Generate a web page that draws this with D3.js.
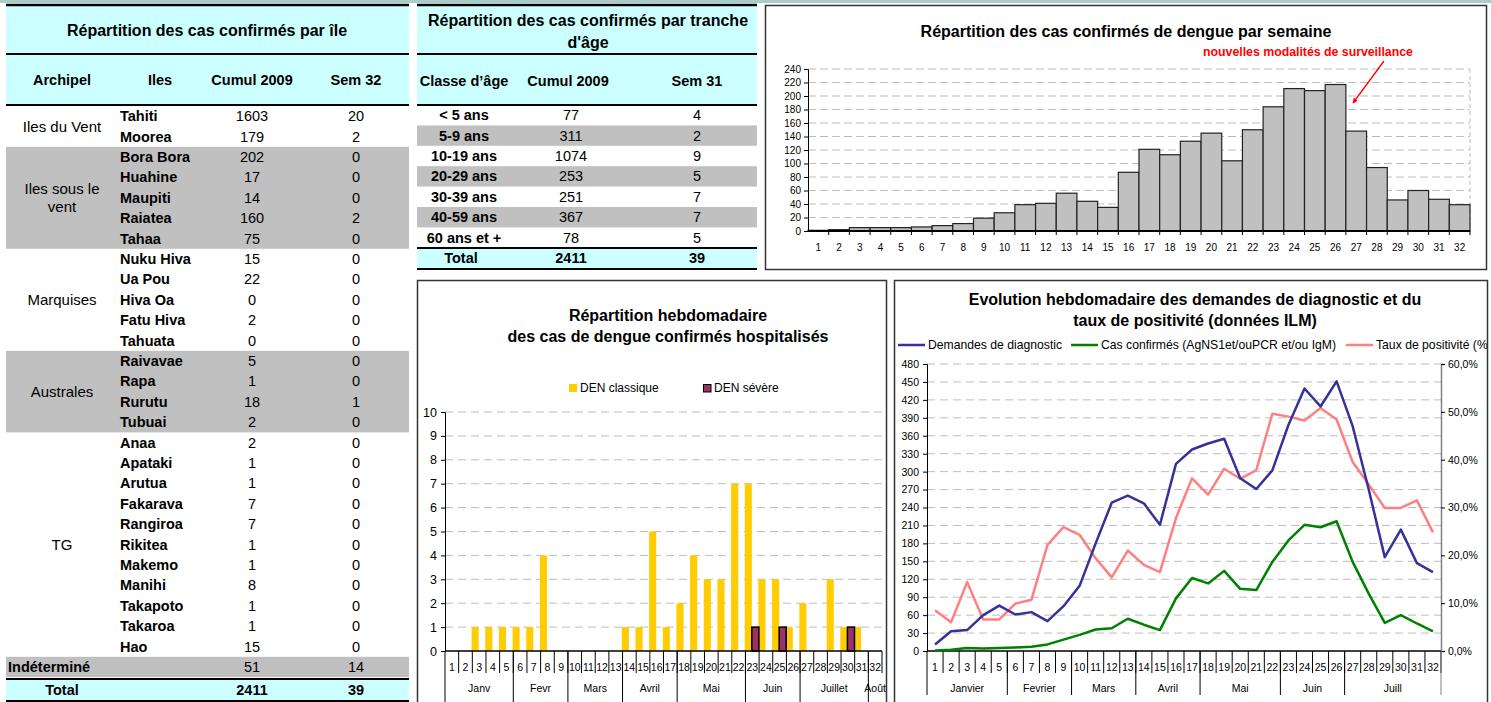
<!DOCTYPE html>
<html>
<head>
<meta charset="utf-8">
<script src="https://cdn.jsdelivr.net/npm/d3@7"></script>
<style>
body { margin: 0; background: #fff; }
svg { display: block; font-family: "Liberation Sans", Arial, sans-serif; }
</style>
</head>
<body>
<svg id="chart" width="1491" height="702"></svg>
<script>
// ---- data ----
var archipelNames = ['Iles du Vent', 'Iles sous le\nvent', 'Marquises', 'Australes', 'TG'];
var archipelSizes = [2, 5, 5, 4, 11];
var iles = ['Tahiti', 'Moorea', 'Bora Bora', 'Huahine', 'Maupiti', 'Raiatea', 'Tahaa',
    'Nuku Hiva', 'Ua Pou', 'Hiva Oa', 'Fatu Hiva', 'Tahuata',
    'Raivavae', 'Rapa', 'Rurutu', 'Tubuai',
    'Anaa', 'Apataki', 'Arutua', 'Fakarava', 'Rangiroa', 'Rikitea', 'Makemo', 'Manihi', 'Takapoto', 'Takaroa', 'Hao'];
var ilesCumul = [1603, 179, 202, 17, 14, 160, 75, 15, 22, 0, 2, 0, 5, 1, 18, 2, 2, 1, 1, 7, 7, 1, 1, 8, 1, 1, 15];
var ilesSem = [20, 2, 0, 0, 0, 2, 0, 0, 0, 0, 0, 0, 0, 0, 1, 0, 0, 0, 0, 0, 0, 0, 0, 0, 0, 0, 0];
var indetCumul = 51, indetSem = 14;
var totalCumul = 2411, totalSem = 39;

var ageClasses = ['< 5 ans', '5-9 ans', '10-19 ans', '20-29 ans', '30-39 ans', '40-59 ans', '60 ans et +'];
var ageCumul = [77, 311, 1074, 253, 251, 367, 78];
var ageSem = [4, 2, 9, 5, 7, 7, 5];

var weeks = [1, 2, 3, 4, 5, 6, 7, 8, 9, 10, 11, 12, 13, 14, 15, 16,
    17, 18, 19, 20, 21, 22, 23, 24, 25, 26, 27, 28, 29, 30, 31, 32];
var casesPerWeek = [1, 2, 5, 5, 5, 6, 8, 11, 19, 27, 39, 41, 56, 44, 35, 87,
    121, 113, 133, 145, 104, 150, 184, 211, 208, 217, 148, 94, 46, 60, 47, 39];

var hospClassique = [0, 0, 1, 1, 1, 1, 1, 4, 0, 0, 0, 0, 0, 1, 1, 5,
    1, 2, 4, 3, 3, 7, 7, 3, 3, 1, 2, 0, 3, 1, 1, 0];
var hospSevere = [0, 0, 0, 0, 0, 0, 0, 0, 0, 0, 0, 0, 0, 0, 0, 0,
    0, 0, 0, 0, 0, 0, 1, 0, 1, 0, 0, 0, 0, 1, 0, 0];
var monthsHosp = ['Janv', 'Fevr', 'Mars', 'Avril', 'Mai', 'Juin', 'Juillet', 'Août'];
var monthsHospWeeks = [5, 4, 4, 4, 5, 4, 5, 1];

var demandes = [11, 33, 35, 60, 76, 61, 65, 50, 75, 109, 180, 248, 260, 247, 211, 313,
    337, 347, 355, 289, 271, 302, 378, 439, 409, 451, 376, 270, 157, 203, 147, 132];
var confirmes = [1, 2, 5, 4, 5, 6, 7, 11, 19, 27, 36, 38, 54, 44, 35, 88,
    122, 113, 134, 104, 102, 149, 185, 211, 207, 217, 149, 96, 47, 60, 46, 33];
var tauxPositivite = [8.5, 6.0, 14.4, 6.6, 6.6, 9.9, 10.7, 22.2, 25.9, 24.3, 19.4, 15.4, 21.0, 18.0, 16.5, 27.8,
    36.1, 32.7, 38.1, 36.0, 37.8, 49.6, 49.0, 48.2, 50.8, 48.4, 39.5, 34.8, 29.9, 29.9, 31.5, 24.8];
var monthsIlm = ['Janvier', 'Fevrier', 'Mars', 'Avril', 'Mai', 'Juin', 'Juill'];
var monthsIlmWeeks = [5, 4, 4, 4, 5, 4, 6];

// ---- common ----
var svg = d3.select('#chart');
var cyan = '#ccffff', grey = '#c0c0c0';
var cellFont = 14.5, titleFont = 16;

svg.append('rect').attr('x', 0).attr('y', 0).attr('width', 1491).attr('height', 3).attr('fill', '#a9cdcd');

function hline(g, x0, x1, y, w) {
    g.append('line').attr('x1', x0).attr('x2', x1).attr('y1', y).attr('y2', y)
        .attr('stroke', '#000').attr('stroke-width', w);
}

function txt(g, x, y, s, size, opts) {
    opts = opts || {};
    return g.append('text')
        .attr('x', x).attr('y', y).attr('dy', '0.35em')
        .attr('text-anchor', opts.anchor || 'middle')
        .attr('font-size', size)
        .attr('font-weight', opts.bold ? 'bold' : 'normal')
        .attr('fill', opts.fill || '#000')
        .text(s);
}

// ---- table 1 : cases per island ----
var t1 = svg.append('g');
var T1 = { x0: 6, x1: 409 };
var nRows1 = iles.length + 1;
var row1 = d3.scaleBand().domain(d3.range(nRows1)).range([106, 106 + nRows1 * 20.4]);

t1.append('rect').attr('x', T1.x0).attr('y', 5).attr('width', T1.x1 - T1.x0).attr('height', 100).attr('fill', cyan);
t1.append('rect').attr('x', T1.x0).attr('y', 679).attr('width', T1.x1 - T1.x0).attr('height', 22).attr('fill', cyan);

var groupStart = [];
archipelSizes.reduce(function (acc, n) { groupStart.push(acc); return acc + n; }, 0);

archipelNames.forEach(function (name, i) {
    var y0 = row1(groupStart[i]);
    var y1 = row1(groupStart[i] + archipelSizes[i] - 1) + row1.bandwidth();
    if (i % 2 === 1) {
        t1.append('rect').attr('x', T1.x0).attr('y', y0).attr('width', T1.x1 - T1.x0)
            .attr('height', y1 - y0).attr('fill', grey);
    }
    var lines = name.split('\n');
    lines.forEach(function (l, j) {
        txt(t1, 62, (y0 + y1) / 2 + (j - (lines.length - 1) / 2) * 18, l, 15);
    });
});
t1.append('rect').attr('x', T1.x0).attr('y', row1(iles.length)).attr('width', T1.x1 - T1.x0)
    .attr('height', row1.bandwidth()).attr('fill', grey);

txt(t1, 207, 30, 'Répartition des cas confirmés par île', titleFont, { bold: true });
[['Archipel', 62], ['Iles', 160], ['Cumul 2009', 252], ['Sem 32', 356]].forEach(function (h) {
    txt(t1, h[1], 80, h[0], cellFont, { bold: true });
});

iles.forEach(function (d, i) {
    var cy = row1(i) + row1.bandwidth() / 2;
    txt(t1, 120, cy, d, cellFont, { bold: true, anchor: 'start' });
    txt(t1, 252, cy, ilesCumul[i], cellFont);
    txt(t1, 356, cy, ilesSem[i], cellFont);
});
var cyI = row1(iles.length) + row1.bandwidth() / 2;
txt(t1, 8, cyI, 'Indéterminé', cellFont, { bold: true, anchor: 'start' });
txt(t1, 252, cyI, indetCumul, cellFont);
txt(t1, 356, cyI, indetSem, cellFont);
txt(t1, 62, 690, 'Total', cellFont, { bold: true });
txt(t1, 252, 690, totalCumul, cellFont, { bold: true });
txt(t1, 356, 690, totalSem, cellFont, { bold: true });

[[5, 2.5], [54, 2], [105, 2], [679, 2], [701, 2]].forEach(function (l) {
    hline(t1, T1.x0, T1.x1, l[0], l[1]);
});

// ---- table 2 : cases per age class ----
var t2 = svg.append('g');
var T2 = { x0: 417, x1: 757 };
var row2 = d3.scaleBand().domain(d3.range(ageClasses.length)).range([105, 105 + ageClasses.length * 20.4]);

t2.append('rect').attr('x', T2.x0).attr('y', 5).attr('width', T2.x1 - T2.x0).attr('height', 100).attr('fill', cyan);
t2.append('rect').attr('x', T2.x0).attr('y', 248).attr('width', T2.x1 - T2.x0).attr('height', 21).attr('fill', cyan);
ageClasses.forEach(function (d, i) {
    if (i % 2 === 1) {
        t2.append('rect').attr('x', T2.x0).attr('y', row2(i)).attr('width', T2.x1 - T2.x0)
            .attr('height', row2.bandwidth()).attr('fill', grey);
    }
    var cy = row2(i) + row2.bandwidth() / 2;
    txt(t2, 464, cy, d, cellFont, { bold: true });
    txt(t2, 571, cy, ageCumul[i], cellFont);
    txt(t2, 697, cy, ageSem[i], cellFont);
});
txt(t2, 588, 20, 'Répartition des cas confirmés par tranche', titleFont, { bold: true });
txt(t2, 588, 42, "d'âge", titleFont, { bold: true });
[['Classe d’âge', 464], ['Cumul 2009', 568], ['Sem 31', 697]].forEach(function (h) {
    txt(t2, h[1], 81, h[0], cellFont, { bold: true });
});
txt(t2, 461, 258, 'Total', cellFont, { bold: true });
txt(t2, 571, 258, totalCumul, cellFont, { bold: true });
txt(t2, 697, 258, totalSem, cellFont, { bold: true });
[[5, 2.5], [54, 2], [105, 2], [248, 2], [269, 2]].forEach(function (l) {
    hline(t2, T2.x0, T2.x1, l[0], l[1]);
});

// ---- chart 1 : confirmed cases per week ----
var c1 = svg.append('g');
c1.append('rect').attr('x', 765.5).attr('y', 5.5).attr('width', 721).attr('height', 264)
    .attr('fill', '#fff').attr('stroke', '#333').attr('stroke-width', 1.5);
var P1 = { l: 808, r: 1470, t: 69, b: 231 };
var x1 = d3.scaleBand().domain(weeks).range([P1.l, P1.r]);
var y1 = d3.scaleLinear().domain([0, 240]).range([P1.b, P1.t]);

c1.selectAll('.grid').data(y1.ticks(12).filter(function (d) { return d > 0; }))
    .enter().append('line')
    .attr('x1', P1.l).attr('x2', P1.r)
    .attr('y1', function (d) { return y1(d); }).attr('y2', function (d) { return y1(d); })
    .attr('stroke', '#bdbdbd').attr('stroke-dasharray', '8,4');
c1.append('line').attr('x1', P1.r).attr('x2', P1.r).attr('y1', P1.t).attr('y2', P1.b)
    .attr('stroke', '#bdbdbd').attr('stroke-dasharray', '4,3');

c1.selectAll('.bar').data(casesPerWeek).enter().append('rect')
    .attr('x', function (d, i) { return x1(weeks[i]); })
    .attr('y', function (d) { return y1(d); })
    .attr('width', x1.bandwidth())
    .attr('height', function (d) { return P1.b - y1(d); })
    .attr('fill', '#c0c0c0').attr('stroke', '#222').attr('stroke-width', 1.2);

var ax1 = c1.append('g').attr('transform', 'translate(' + P1.l + ',0)')
    .call(d3.axisLeft(y1).ticks(12).tickSize(4).tickPadding(3));
ax1.selectAll('text').attr('font-size', 10).attr('font-family', null);
ax1.selectAll('line').attr('stroke', '#000');
ax1.select('.domain').attr('stroke', '#000');

hline(c1, P1.l, P1.r, P1.b, 2);
c1.selectAll('.wt').data(weeks).enter().append('line')
    .attr('x1', function (d) { return x1(d) + x1.bandwidth(); })
    .attr('x2', function (d) { return x1(d) + x1.bandwidth(); })
    .attr('y1', P1.b).attr('y2', P1.b + 4).attr('stroke', '#000');
c1.selectAll('.wl').data(weeks).enter().append('text')
    .attr('x', function (d) { return x1(d) + x1.bandwidth() / 2; })
    .attr('y', 247).attr('dy', '0.35em').attr('text-anchor', 'middle')
    .attr('font-size', 10).text(function (d) { return d; });

txt(c1, 1126, 31, 'Répartition des cas confirmés de dengue par semaine', titleFont, { bold: true });
txt(c1, 1308, 52, 'nouvelles modalités de surveillance', 12.3, { bold: true, fill: '#ff0000' });

svg.append('defs').append('marker')
    .attr('id', 'arrow').attr('viewBox', '0 0 10 10').attr('refX', 9).attr('refY', 5)
    .attr('markerWidth', 4).attr('markerHeight', 4).attr('orient', 'auto')
    .append('path').attr('d', 'M0,0 L10,5 L0,10 z').attr('fill', '#ff0000');
c1.append('line').attr('x1', 1384).attr('y1', 61).attr('x2', 1353).attr('y2', 103)
    .attr('stroke', '#ff0000').attr('stroke-width', 1.3).attr('marker-end', 'url(#arrow)');

// week / month axis under the two bottom charts
function weekMonthAxis(g, x, yAxis, months, monthWeeks, weekTickEnd, monthTickEnd) {
    var bw = x.bandwidth();
    g.selectAll(null).data(weeks).enter().append('line')
        .attr('x1', function (d) { return x(d) + bw; }).attr('x2', function (d) { return x(d) + bw; })
        .attr('y1', yAxis).attr('y2', weekTickEnd).attr('stroke', '#000');
    g.selectAll(null).data(weeks).enter().append('text')
        .attr('x', function (d) { return x(d) + bw / 2; }).attr('y', 667).attr('dy', '0.35em')
        .attr('text-anchor', 'middle').attr('font-size', 10.5).text(function (d) { return d; });
    var acc = 0;
    months.forEach(function (m, i) {
        var first = weeks[acc], last = weeks[acc + monthWeeks[i] - 1];
        var xa = x(first), xb = x(last) + bw;
        g.append('line').attr('x1', xa).attr('x2', xa).attr('y1', yAxis).attr('y2', monthTickEnd)
            .attr('stroke', '#000');
        txt(g, (xa + xb) / 2, 688, m, 10.5);
        acc += monthWeeks[i];
    });
}

// ---- chart 2 : hospitalised cases ----
var c2 = svg.append('g');
c2.append('clipPath').attr('id', 'clip2').append('rect')
    .attr('x', 417).attr('y', 280).attr('width', 470).attr('height', 430);
var c2in = c2.append('g').attr('clip-path', 'url(#clip2)');
var P2 = { l: 445, r: 882, t: 412, b: 651 };
var x2 = d3.scaleBand().domain(weeks).range([P2.l, P2.r]);
var sub2 = d3.scaleBand().domain(['classique', 'severe']).range([-0.7, x2.bandwidth() - 0.2]);
var y2 = d3.scaleLinear().domain([0, 10]).range([P2.b, P2.t]);

c2in.selectAll('.grid').data(y2.ticks(10).filter(function (d) { return d > 0; }))
    .enter().append('line')
    .attr('x1', P2.l).attr('x2', P2.r)
    .attr('y1', function (d) { return y2(d); }).attr('y2', function (d) { return y2(d); })
    .attr('stroke', '#bdbdbd').attr('stroke-dasharray', '8,5');

c2in.selectAll('.barC').data(hospClassique).enter().append('rect')
    .attr('class', 'barC')
    .attr('x', function (d, i) { return x2(weeks[i]) + sub2('classique'); })
    .attr('y', function (d) { return y2(d); })
    .attr('width', sub2.bandwidth())
    .attr('height', function (d) { return P2.b - y2(d); })
    .attr('fill', '#ffcc00');
c2in.selectAll('.barS').data(hospSevere).enter().append('rect')
    .attr('class', 'barS')
    .attr('x', function (d, i) { return x2(weeks[i]) + sub2('severe'); })
    .attr('y', function (d) { return y2(d); })
    .attr('width', sub2.bandwidth())
    .attr('height', function (d) { return P2.b - y2(d); })
    .attr('fill', '#993366').attr('stroke', '#000')
    .attr('stroke-width', function (d) { return d > 0 ? 1.5 : 0; });

var ax2 = c2in.append('g').attr('transform', 'translate(' + P2.l + ',0)')
    .call(d3.axisLeft(y2).ticks(10).tickSize(4).tickPadding(4));
ax2.selectAll('text').attr('font-size', 12.5).attr('font-family', null);
ax2.selectAll('line').attr('stroke', '#000');
ax2.select('.domain').attr('stroke', '#000');
hline(c2in, P2.l, P2.r, P2.b, 1.5);
weekMonthAxis(c2in, x2, P2.b, monthsHosp, monthsHospWeeks, 673, 702);

txt(c2in, 668, 315, 'Répartition hebdomadaire', titleFont, { bold: true });
txt(c2in, 668, 336, 'des cas de dengue confirmés hospitalisés', titleFont, { bold: true });
c2in.append('rect').attr('x', 569).attr('y', 384).attr('width', 8).attr('height', 8).attr('fill', '#ffcc00');
txt(c2in, 580, 388, 'DEN classique', 12, { anchor: 'start' });
c2in.append('rect').attr('x', 703.5).attr('y', 384.5).attr('width', 7.5).attr('height', 7.5)
    .attr('fill', '#993366').attr('stroke', '#000').attr('stroke-width', 1);
txt(c2in, 714, 388, 'DEN sévère', 12, { anchor: 'start' });
c2.append('rect').attr('x', 417.5).attr('y', 280.5).attr('width', 469).attr('height', 430)
    .attr('fill', 'none').attr('stroke', '#333').attr('stroke-width', 1.5);

// ---- chart 3 : diagnostic requests and positivity ----
var c3 = svg.append('g');
c3.append('clipPath').attr('id', 'clip3').append('rect')
    .attr('x', 894).attr('y', 280).attr('width', 593).attr('height', 430);
var c3in = c3.append('g').attr('clip-path', 'url(#clip3)');
var P3 = { l: 927, r: 1441, t: 364, b: 651 };
var x3 = d3.scaleBand().domain(weeks).range([P3.l, P3.r]);
var y3 = d3.scaleLinear().domain([0, 480]).range([P3.b, P3.t]);
var y3r = d3.scaleLinear().domain([0, 60]).range([P3.b, P3.t]);
var cx3 = function (i) { return x3(weeks[i]) + x3.bandwidth() / 2; };

c3in.selectAll('.grid').data(d3.range(30, 481, 30))
    .enter().append('line')
    .attr('x1', P3.l).attr('x2', P3.r)
    .attr('y1', function (d) { return y3(d); }).attr('y2', function (d) { return y3(d); })
    .attr('stroke', '#bdbdbd').attr('stroke-dasharray', '8,5');

var ax3 = c3in.append('g').attr('transform', 'translate(' + P3.l + ',0)')
    .call(d3.axisLeft(y3).tickValues(d3.range(0, 481, 30)).tickSize(4).tickPadding(4));
ax3.selectAll('text').attr('font-size', 10.5).attr('font-family', null);
ax3.selectAll('line').attr('stroke', '#000');
ax3.select('.domain').attr('stroke', '#000');

var ax3r = c3in.append('g').attr('transform', 'translate(' + P3.r + ',0)')
    .call(d3.axisRight(y3r).tickValues([0, 10, 20, 30, 40, 50, 60]).tickSize(4).tickPadding(3)
        .tickFormat(function (d) { return d3.format('.1f')(d).replace('.', ',') + '%'; }));
ax3r.selectAll('text').attr('font-size', 10.5).attr('font-family', null);
ax3r.selectAll('line').attr('stroke', '#000');
ax3r.select('.domain').attr('stroke', '#808080').attr('stroke-width', 1.5);

hline(c3in, P3.l, P3.r, P3.b, 1.5);
weekMonthAxis(c3in, x3, P3.b, monthsIlm, monthsIlmWeeks, 673, 695);
c3in.append('line').attr('x1', P3.r).attr('x2', P3.r).attr('y1', P3.b).attr('y2', 695).attr('stroke', '#808080');

var lineL = d3.line().x(function (d, i) { return cx3(i); }).y(function (d) { return y3(d); });
var lineR = d3.line().x(function (d, i) { return cx3(i); }).y(function (d) { return y3r(d); });
c3in.append('path').datum(tauxPositivite).attr('d', lineR)
    .attr('fill', 'none').attr('stroke', '#ff8080').attr('stroke-width', 2.5).attr('stroke-linejoin', 'round');
c3in.append('path').datum(confirmes).attr('d', lineL)
    .attr('fill', 'none').attr('stroke', '#008000').attr('stroke-width', 2.5).attr('stroke-linejoin', 'round');
c3in.append('path').datum(demandes).attr('d', lineL)
    .attr('fill', 'none').attr('stroke', '#333399').attr('stroke-width', 2.5).attr('stroke-linejoin', 'round');

txt(c3in, 1195, 299, 'Evolution hebdomadaire des demandes de diagnostic et du', titleFont, { bold: true });
txt(c3in, 1195, 320, 'taux de positivité (données ILM)', titleFont, { bold: true });

var legend3 = [
    { label: 'Demandes de diagnostic', color: '#333399', x: 898 },
    { label: 'Cas confirmés (AgNS1et/ouPCR et/ou IgM)', color: '#008000', x: 1071 },
    { label: 'Taux de positivité (%)', color: '#ff8080', x: 1346 }
];
legend3.forEach(function (d) {
    c3in.append('line').attr('x1', d.x).attr('x2', d.x + 27).attr('y1', 345).attr('y2', 345)
        .attr('stroke', d.color).attr('stroke-width', 2.5);
    txt(c3in, d.x + 30, 345, d.label, 12.2, { anchor: 'start' });
});
c3.append('rect').attr('x', 894.5).attr('y', 280.5).attr('width', 593).attr('height', 430)
    .attr('fill', 'none').attr('stroke', '#333').attr('stroke-width', 1.5);
</script>
</body>
</html>
